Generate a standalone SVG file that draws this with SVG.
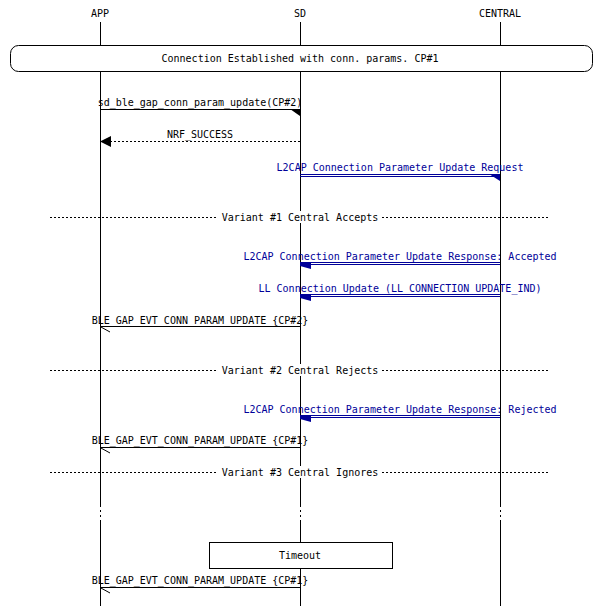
<svg xmlns="http://www.w3.org/2000/svg" width="600" height="606" viewBox="0 0 600 606">
<style>
text{font-family:"DejaVu Sans Mono","Liberation Mono",monospace;font-size:10px;text-anchor:middle;fill:#000}
.b{fill:#000099}
.l{stroke:#000;stroke-width:1;fill:none}
.bl{stroke:#000099;stroke-width:1;fill:none}
.sep{stroke:#000;stroke-dasharray:2,2}
</style>
<rect width="600" height="606" fill="#fff"/>
<g id="lifelines">
<text x="100" y="17">APP</text><text x="300" y="17">SD</text><text x="500" y="17">CENTRAL</text>
<path class="l" d="M100.5 22V505M300.5 22V505M500.5 22V505M100.5 520V606M300.5 520V606M500.5 520V606"/>
<path class="l" stroke-dasharray="2,3" d="M100.5 505V520M300.5 505V520M500.5 505V520"/>
</g>
<g id="box-established"><rect x="10.5" y="45.5" width="582" height="26" rx="8" fill="#fff" stroke="#000"/><text x="300" y="62">Connection Established with conn. params. CP#1</text></g>
<g id="connectors">
<text x="200" y="106">sd_ble_gap_conn_param_update(CP#2)</text>
<path class="l" d="M100 109.5H300"/><polygon points="290,109 300,109 300,116"/>
<text x="200" y="138">NRF_SUCCESS</text>
<path class="l" stroke-dasharray="2,2" d="M110 141.5H300"/><polygon points="100,141.5 111,136 111,147"/>
<text class="b" x="400" y="171">L2CAP Connection Parameter Update Request</text>
<path class="bl" d="M300 174.5H500M300 176.5H500"/><polygon class="b" points="489,174 500,174 500,181"/>
<text class="b" x="400" y="260">L2CAP Connection Parameter Update Response: Accepted</text>
<path class="bl" d="M300 262.5H500M300 264.5H500"/><polygon class="b" points="300,262 311,262 311,269 300,266"/>
<text class="b" x="400" y="292">LL Connection Update (LL_CONNECTION_UPDATE_IND)</text>
<path class="bl" d="M300 294.5H500M300 296.5H500"/><polygon class="b" points="300,294 311,294 311,301 300,298"/>
<text x="200" y="324">BLE_GAP_EVT_CONN_PARAM_UPDATE {CP#2}</text>
<path class="l" d="M100 326.5H300M100 326.5L110 332"/>
<text class="b" x="400" y="413">L2CAP Connection Parameter Update Response: Rejected</text>
<path class="bl" d="M300 415.5H500M300 417.5H500"/><polygon class="b" points="300,415 311,415 311,422 300,419"/>
<text x="200" y="444">BLE_GAP_EVT_CONN_PARAM_UPDATE {CP#1}</text>
<path class="l" d="M100 447.5H300M100 447.5L110 453"/>
<text x="200" y="584">BLE_GAP_EVT_CONN_PARAM_UPDATE {CP#1}</text>
<path class="l" d="M100 587.5H300M100 587.5L110 593"/>
</g>
<g id="separators">
<path class="sep" d="M50 217.5H550M50 370.5H550M50 472.5H550"/>
<rect x="218" y="211" width="164" height="12" fill="#fff"/><text x="300" y="221">Variant #1 Central Accepts</text>
<rect x="218" y="364" width="164" height="12" fill="#fff"/><text x="300" y="374">Variant #2 Central Rejects</text>
<rect x="218" y="466" width="164" height="12" fill="#fff"/><text x="300" y="476">Variant #3 Central Ignores</text>
</g>
<g id="timeout"><rect x="209.5" y="542.5" width="183" height="26" fill="#fff" stroke="#000"/><text x="300" y="559">Timeout</text></g>
</svg>
